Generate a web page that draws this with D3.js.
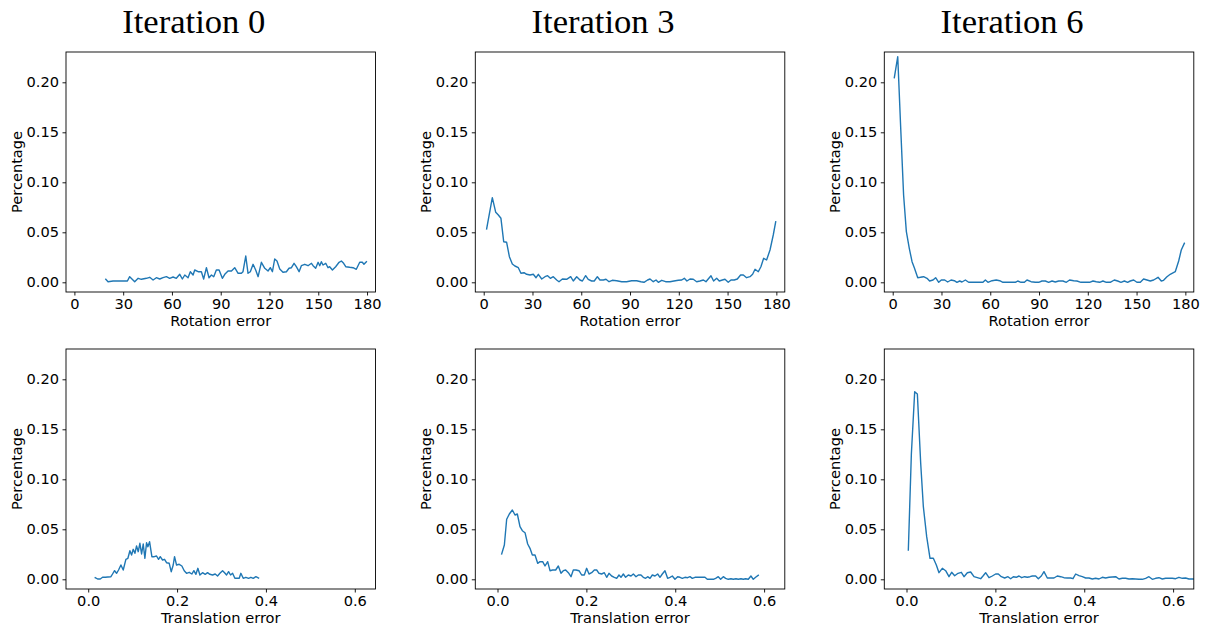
<!DOCTYPE html>
<html>
<head>
<meta charset="utf-8">
<script src="https://cdn.jsdelivr.net/npm/d3@7"></script>
<style>
  html, body { margin: 0; padding: 0; background: #fff; }
  svg text { font-family: "DejaVu Sans", sans-serif; fill: #000; }
  .title { font-family: "Liberation Serif", "DejaVu Serif", serif; }
</style>
</head>
<body>
<svg id="fig" width="1215" height="628"></svg>
<script>
// Column titles and tick values
const iterations = ["Iteration 0", "Iteration 3", "Iteration 6"];
const rotTicks = [0, 30, 60, 90, 120, 150, 180];
const transTicks = [0.0, 0.2, 0.4, 0.6];
const pctTicks = [0.00, 0.05, 0.10, 0.15, 0.20];

// Rotation error histograms (degrees -> fraction of samples)
const rotErr0 = [19.3,20.7,23.8,27.9,32.6,34.0,37.1,39.2,41.2,44.3,46.3,48.4,50.4,52.5,54.5,56.6,58.6,60.7,62.7,64.8,66.4,67.9,69.9,71.3,73.0,74.0,76.1,78.1,79.5,81.2,82.8,84.3,85.7,87.3,89.0,91.0,92.5,94.5,96.6,98.6,100.7,102.7,103.7,105.4,106.8,108.2,109.9,111.5,113.0,115.0,117.1,119.1,120.5,121.8,123.2,124.6,126.3,128.3,130.4,132.0,133.5,135.1,136.5,138.2,139.6,141.7,143.7,145.8,146.8,148.4,149.9,150.9,151.9,152.9,154.6,156.0,157.0,158.7,160.7,162.8,164.2,165.6,166.9,169.3,171.4,173.4,175.5,177.1,178.1,179.6];
const rotPct0 = [0.0030,0.0006,0.0013,0.0013,0.0013,0.0056,0.0006,0.0040,0.0030,0.0040,0.0050,0.0023,0.0046,0.0033,0.0046,0.0056,0.0040,0.0053,0.0040,0.0080,0.0033,0.0073,0.0046,0.0106,0.0073,0.0123,0.0106,0.0106,0.0033,0.0146,0.0046,0.0073,0.0056,0.0123,0.0123,0.0040,0.0080,0.0113,0.0113,0.0146,0.0090,0.0090,0.0106,0.0263,0.0090,0.0106,0.0180,0.0123,0.0056,0.0200,0.0140,0.0113,0.0146,0.0106,0.0233,0.0213,0.0133,0.0100,0.0106,0.0140,0.0146,0.0190,0.0156,0.0106,0.0166,0.0180,0.0166,0.0190,0.0166,0.0140,0.0200,0.0166,0.0206,0.0173,0.0190,0.0146,0.0156,0.0123,0.0156,0.0200,0.0213,0.0190,0.0156,0.0150,0.0146,0.0130,0.0200,0.0200,0.0180,0.0206];

const rotErr3 = [1.8,5.3,7.4,9.0,10.6,12.3,14.1,15.8,17.6,19.2,21.3,22.9,24.8,26.4,28.5,30.5,32.2,33.6,35.7,37.7,39.3,41.0,42.8,44.9,46.3,48.4,51.0,53.5,55.1,57.2,59.2,60.7,62.7,64.3,66.4,68.0,69.9,71.5,73.6,75.2,77.1,79.1,81.8,84.9,87.9,91.0,94.1,96.7,98.6,100.8,102.3,104.3,106.0,107.4,109.5,111.9,114.6,117.0,119.7,121.8,123.4,125.0,126.9,128.9,131.0,133.0,135.1,136.7,138.1,139.8,141.4,143.3,144.9,146.8,148.4,150.4,152.1,154.1,156.0,158.0,159.7,161.7,163.8,165.4,166.9,168.9,170.5,172.2,174.0,176.1,178.1,179.6];
const rotPct3 = [0.0533,0.0846,0.0700,0.0673,0.0640,0.0406,0.0400,0.0256,0.0183,0.0163,0.0146,0.0090,0.0096,0.0080,0.0073,0.0080,0.0046,0.0080,0.0033,0.0056,0.0066,0.0040,0.0056,0.0023,0.0006,0.0033,0.0030,0.0056,0.0013,0.0056,0.0023,0.0013,0.0066,0.0030,0.0013,0.0013,0.0056,0.0023,0.0023,0.0030,0.0006,0.0020,0.0016,0.0006,0.0006,0.0016,0.0016,0.0006,0.0000,0.0023,0.0033,0.0006,0.0023,0.0000,0.0020,0.0006,0.0006,0.0013,0.0020,0.0023,0.0040,0.0013,0.0033,0.0030,0.0006,0.0013,0.0023,0.0006,0.0033,0.0066,0.0013,0.0040,0.0013,0.0023,0.0030,0.0000,0.0023,0.0023,0.0033,0.0073,0.0073,0.0046,0.0056,0.0080,0.0130,0.0106,0.0156,0.0240,0.0223,0.0323,0.0473,0.0606];

const rotErr6 = [1.0,3.1,4.9,6.7,8.4,10.2,11.9,13.3,15.4,17.0,19.0,21.1,22.7,24.8,26.4,28.3,29.9,32.0,33.8,35.9,37.9,39.5,41.2,42.6,44.7,46.7,55.5,57.0,58.6,61.1,63.7,65.8,67.8,75.4,76.9,78.9,81.0,82.6,85.1,87.7,89.8,91.8,93.9,95.9,98.0,100.0,102.1,104.7,106.8,108.8,111.3,113.3,115.8,118.5,121.1,123.2,125.2,127.3,129.3,131.4,133.8,136.3,138.4,140.4,142.5,144.5,146.1,148.2,150.2,152.3,154.3,156.4,158.4,160.5,163.2,165.2,166.6,168.7,170.7,173.8,175.9,177.5,179.4];
const rotPct6 = [0.2046,0.2256,0.1550,0.0873,0.0506,0.0340,0.0206,0.0146,0.0046,0.0050,0.0056,0.0040,0.0013,0.0023,0.0046,0.0000,0.0023,0.0023,0.0003,0.0023,0.0016,0.0000,0.0013,0.0003,0.0023,0.0000,0.0000,0.0023,0.0000,0.0016,0.0023,0.0016,0.0000,0.0000,0.0013,0.0000,0.0000,0.0023,0.0006,0.0000,0.0000,0.0013,0.0013,0.0000,0.0013,0.0003,0.0013,0.0013,0.0000,0.0023,0.0016,0.0013,0.0000,0.0000,0.0000,0.0013,0.0006,0.0000,0.0013,0.0000,0.0000,0.0023,0.0013,0.0000,0.0013,0.0000,0.0013,0.0023,0.0000,0.0000,0.0033,0.0023,0.0013,0.0023,0.0050,0.0013,0.0020,0.0056,0.0080,0.0106,0.0213,0.0323,0.0390];

// Translation error histograms
const transErr0 = [0.0158,0.0211,0.0271,0.0323,0.0383,0.0443,0.0511,0.0548,0.0593,0.0638,0.0683,0.0736,0.0788,0.0848,0.0893,0.0938,0.0976,0.1013,0.1051,0.1088,0.1126,0.1163,0.1201,0.1238,0.1276,0.1313,0.1343,0.1381,0.1433,0.1486,0.1538,0.1583,0.1621,0.1673,0.1718,0.1763,0.1823,0.1868,0.1913,0.1943,0.1988,0.2048,0.2108,0.2161,0.2213,0.2273,0.2333,0.2378,0.2424,0.2468,0.2514,0.2573,0.2633,0.2686,0.2738,0.2799,0.2858,0.2911,0.2964,0.3024,0.3069,0.3114,0.3159,0.3204,0.3249,0.3301,0.3354,0.3399,0.3436,0.3489,0.3549,0.3609,0.3661,0.3714,0.3774,0.3834];
const transPct0 = [0.0016,0.0003,0.0003,0.0020,0.0020,0.0023,0.0026,0.0053,0.0086,0.0060,0.0093,0.0143,0.0093,0.0200,0.0210,0.0286,0.0243,0.0300,0.0260,0.0333,0.0276,0.0360,0.0253,0.0353,0.0210,0.0366,0.0326,0.0376,0.0226,0.0226,0.0233,0.0200,0.0226,0.0193,0.0200,0.0166,0.0160,0.0076,0.0143,0.0226,0.0143,0.0150,0.0133,0.0086,0.0060,0.0070,0.0053,0.0086,0.0050,0.0110,0.0043,0.0066,0.0050,0.0066,0.0050,0.0043,0.0053,0.0033,0.0060,0.0086,0.0066,0.0043,0.0076,0.0043,0.0060,0.0010,0.0010,0.0010,0.0060,0.0010,0.0020,0.0010,0.0020,0.0010,0.0026,0.0013];

const transErr3 = [0.0094,0.0154,0.0206,0.0266,0.0334,0.0394,0.0446,0.0506,0.0559,0.0619,0.0679,0.0731,0.0784,0.0844,0.0904,0.0956,0.1016,0.1069,0.1129,0.1181,0.1241,0.1309,0.1369,0.1429,0.1481,0.1534,0.1594,0.1654,0.1706,0.1766,0.1834,0.1894,0.1954,0.2006,0.2059,0.2119,0.2179,0.2232,0.2284,0.2344,0.2404,0.2457,0.2509,0.2569,0.2629,0.2682,0.2734,0.2779,0.2832,0.2884,0.2944,0.3004,0.3057,0.3117,0.3169,0.3229,0.3281,0.3334,0.3379,0.3432,0.3484,0.3544,0.3604,0.3657,0.3709,0.3769,0.3829,0.3882,0.3934,0.3994,0.4054,0.4107,0.4159,0.4219,0.4279,0.4332,0.4384,0.4444,0.4519,0.4594,0.4669,0.4722,0.4782,0.4857,0.4909,0.4969,0.5022,0.5082,0.5134,0.5194,0.5254,0.5307,0.5367,0.5419,0.5479,0.5532,0.5584,0.5644,0.5704,0.5757,0.5809,0.5869];
const transPct3 = [0.0253,0.0343,0.0600,0.0653,0.0693,0.0643,0.0653,0.0526,0.0486,0.0466,0.0353,0.0310,0.0243,0.0243,0.0160,0.0176,0.0176,0.0133,0.0176,0.0086,0.0093,0.0093,0.0133,0.0060,0.0086,0.0093,0.0066,0.0026,0.0093,0.0093,0.0086,0.0043,0.0043,0.0110,0.0053,0.0066,0.0093,0.0093,0.0060,0.0053,0.0066,0.0020,0.0060,0.0033,0.0020,0.0010,0.0043,0.0020,0.0053,0.0020,0.0043,0.0033,0.0053,0.0026,0.0043,0.0043,0.0020,0.0010,0.0026,0.0010,0.0043,0.0033,0.0053,0.0020,0.0053,0.0086,0.0010,0.0020,0.0033,0.0000,0.0026,0.0020,0.0010,0.0020,0.0016,0.0026,0.0010,0.0020,0.0020,0.0020,0.0020,0.0000,0.0000,0.0000,0.0010,0.0026,0.0000,0.0026,0.0010,0.0000,0.0006,0.0000,0.0006,0.0000,0.0006,0.0000,0.0006,0.0000,0.0033,0.0000,0.0020,0.0040];

const transErr6 = [0.0041,0.0109,0.0184,0.0244,0.0319,0.0379,0.0454,0.0529,0.0604,0.0671,0.0731,0.0806,0.0881,0.0956,0.1016,0.1084,0.1159,0.1234,0.1294,0.1369,0.1444,0.1519,0.1594,0.1669,0.1721,0.1781,0.1856,0.1931,0.2006,0.2066,0.2134,0.2209,0.2284,0.2344,0.2404,0.2471,0.2532,0.2592,0.2659,0.2719,0.2779,0.2832,0.2907,0.2967,0.3034,0.3094,0.3169,0.3244,0.3319,0.3394,0.3469,0.3544,0.3619,0.3694,0.3747,0.3807,0.3882,0.3957,0.4032,0.4107,0.4182,0.4257,0.4332,0.4407,0.4482,0.4557,0.4632,0.4707,0.4782,0.4857,0.4932,0.5007,0.5082,0.5157,0.5232,0.5307,0.5382,0.5457,0.5532,0.5607,0.5682,0.5757,0.5832,0.5907,0.5982,0.6057,0.6132,0.6207,0.6282,0.6357,0.6432,0.6507,0.6582];
const transPct6 = [0.0293,0.1250,0.1876,0.1853,0.1160,0.0726,0.0426,0.0210,0.0210,0.0143,0.0066,0.0110,0.0086,0.0026,0.0070,0.0036,0.0060,0.0070,0.0026,0.0066,0.0073,0.0026,0.0016,0.0006,0.0033,0.0066,0.0016,0.0033,0.0053,0.0053,0.0026,0.0013,0.0026,0.0006,0.0026,0.0020,0.0033,0.0016,0.0026,0.0020,0.0026,0.0033,0.0033,0.0006,0.0033,0.0076,0.0013,0.0013,0.0013,0.0033,0.0026,0.0016,0.0013,0.0013,0.0006,0.0053,0.0036,0.0026,0.0013,0.0013,0.0003,0.0010,0.0003,0.0020,0.0013,0.0020,0.0023,0.0026,0.0003,0.0010,0.0010,0.0003,0.0006,0.0003,0.0000,0.0000,0.0010,0.0026,0.0000,0.0010,0.0016,0.0003,0.0010,0.0010,0.0010,0.0006,0.0020,0.0010,0.0013,0.0003,0.0003,0.0003,0.0003];

const rotX = [rotErr0, rotErr3, rotErr6];
const rotY = [rotPct0, rotPct3, rotPct6];
const transX = [transErr0, transErr3, transErr6];
const transY = [transPct0, transPct3, transPct6];

// Figure geometry
const svg = d3.select("#fig");
const colLeft = [66, 475.3, 884.3];
const rowTop = [52, 349];
const plotW = 309.5, plotH = 240;
const fontPx = 14.6;
const lineColor = "#1f77b4";

const yScale = d3.scaleLinear().domain([-0.0097, 0.2303]).range([plotH, 0]);
const rotScale = d3.scaleLinear().domain([-5.17, 185.2]).range([0, plotW]);
const transScale = d3.scaleLinear().domain([-0.05, 0.6466]).range([0, plotW]);

const rows = [
  { xs: rotX, ys: rotY, scale: rotScale, ticks: rotTicks, fmt: d3.format("d"), label: "Rotation error" },
  { xs: transX, ys: transY, scale: transScale, ticks: transTicks, fmt: d3.format(".1f"), label: "Translation error" }
];

// Column titles
iterations.forEach((t, c) => {
  svg.append("text")
    .attr("class", "title")
    .attr("x", colLeft[c] + plotW / 2 - 27)
    .attr("y", 33)
    .attr("text-anchor", "middle")
    .attr("font-size", 33)
    .attr("textLength", 143)
    .attr("lengthAdjust", "spacingAndGlyphs")
    .text(t);
});

rows.forEach((row, r) => {
  iterations.forEach((_, c) => {
    const g = svg.append("g").attr("transform", `translate(${colLeft[c]},${rowTop[r]})`);
    const clipId = `clip-${r}-${c}`;
    g.append("clipPath").attr("id", clipId)
      .append("rect").attr("width", plotW).attr("height", plotH);

    // data line
    const pts = row.xs[c].map((x, i) => [x, row.ys[c][i]]);
    const line = d3.line().x(d => row.scale(d[0])).y(d => yScale(d[1]));
    g.append("path")
      .datum(pts)
      .attr("clip-path", `url(#${clipId})`)
      .attr("d", line)
      .attr("fill", "none")
      .attr("stroke", lineColor)
      .attr("stroke-width", 1.4)
      .attr("stroke-linejoin", "round")
      .attr("stroke-linecap", "square");

    // x axis
    const xAxis = d3.axisBottom(row.scale).tickValues(row.ticks).tickFormat(row.fmt)
      .tickSize(3.5).tickPadding(3.5);
    const gx = g.append("g").attr("transform", `translate(0,${plotH})`).call(xAxis);
    gx.select(".domain").remove();
    gx.selectAll("text").attr("font-size", fontPx).attr("font-family", "DejaVu Sans").attr("fill", "#000");
    gx.selectAll("line").attr("stroke", "#000").attr("stroke-width", 0.9);

    // y axis
    const yAxis = d3.axisLeft(yScale).tickValues(pctTicks).tickFormat(d3.format(".2f"))
      .tickSize(3.5).tickPadding(3.5);
    const gy = g.append("g").call(yAxis);
    gy.select(".domain").remove();
    gy.selectAll("text").attr("font-size", fontPx).attr("font-family", "DejaVu Sans").attr("fill", "#000");
    gy.selectAll("line").attr("stroke", "#000").attr("stroke-width", 0.9);

    // frame
    g.append("rect")
      .attr("width", plotW).attr("height", plotH)
      .attr("fill", "none").attr("stroke", "#000").attr("stroke-width", 0.9);

    // axis labels
    g.append("text")
      .attr("x", plotW / 2).attr("y", plotH + 34)
      .attr("text-anchor", "middle")
      .attr("font-size", fontPx)
      .text(row.label);

    g.append("text")
      .attr("transform", `translate(${-44},${plotH / 2}) rotate(-90)`)
      .attr("text-anchor", "middle")
      .attr("font-size", fontPx)
      .text("Percentage");
  });
});
</script>
</body>
</html>
